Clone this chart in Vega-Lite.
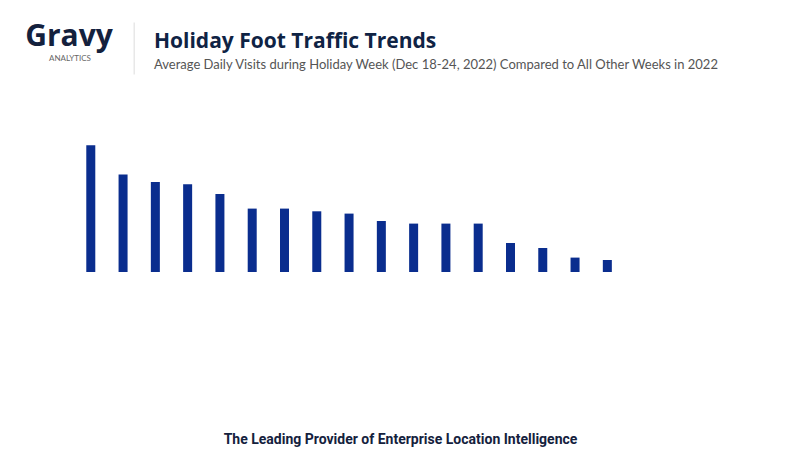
{
  "$schema": "https://vega.github.io/schema/vega-lite/v6.json",
  "width": 548.8,
  "height": 170,
  "autosize": {"type": "none"},
  "padding": {"left": 74.66, "right": 176.54, "top": 102, "bottom": 196},
  "background": "white",
  "config": {"view": {"stroke": null}},
  "title": {
    "text": "Holiday Foot Traffic Trends",
    "subtitle": "Average Daily Visits during Holiday Week (Dec 18-24, 2022) Compared to All Other Weeks in 2022",
    "anchor": "start",
    "frame": "group",
    "dx": 79.3,
    "offset": -51,
    "font": "Open Sans",
    "fontSize": 21,
    "fontWeight": "bold",
    "color": "#0f2344",
    "subtitleFont": "Lato",
    "subtitleFontSize": 13,
    "subtitleColor": "#555555",
    "subtitlePadding": 7
  },
  "data": {
    "values": [
      {"category": "Category 1", "visits": 126.7},
      {"category": "Category 2", "visits": 97.4},
      {"category": "Category 3", "visits": 90.0},
      {"category": "Category 4", "visits": 87.7},
      {"category": "Category 5", "visits": 78.0},
      {"category": "Category 6", "visits": 63.4},
      {"category": "Category 7", "visits": 63.4},
      {"category": "Category 8", "visits": 60.7},
      {"category": "Category 9", "visits": 58.4},
      {"category": "Category 10", "visits": 51.0},
      {"category": "Category 11", "visits": 48.4},
      {"category": "Category 12", "visits": 48.4},
      {"category": "Category 13", "visits": 48.4},
      {"category": "Category 14", "visits": 29.0},
      {"category": "Category 15", "visits": 24.0},
      {"category": "Category 16", "visits": 14.4},
      {"category": "Category 17", "visits": 12.0}
    ]
  },
  "mark": {"type": "bar", "color": "#0a2d8e"},
  "encoding": {
    "x": {
      "field": "category",
      "type": "nominal",
      "sort": null,
      "scale": {"paddingInner": 0.721, "paddingOuter": 0.36},
      "axis": {
        "orient": "top",
        "offset": 28,
        "domain": false,
        "grid": false,
        "values": ["Category 2"],
        "ticks": true,
        "tickSize": 52,
        "tickColor": "#dddddd",
        "tickWidth": 1,
        "tickOffset": 10.9,
        "labels": true,
        "labelAngle": 0,
        "labelExpr": "'ANALYTICS'",
        "labelOffset": -64.5,
        "labelPadding": -38,
        "labelFont": "Lato",
        "labelFontSize": 8,
        "labelColor": "#666666",
        "labelAlign": "center",
        "labelBaseline": "alphabetic",
        "title": "The Leading Provider of Enterprise Location Intelligence",
        "titleFont": "Roboto",
        "titleFontSize": 14,
        "titleFontWeight": "bold",
        "titleColor": "#14213d",
        "titleAnchor": "middle",
        "titleAlign": "center",
        "titleBaseline": "alphabetic",
        "titleX": 325.34,
        "titleY": 369
      }
    },
    "y": {
      "field": "visits",
      "type": "quantitative",
      "scale": {"domain": [0, 170], "nice": false},
      "axis": {
        "domain": false,
        "ticks": false,
        "labels": false,
        "grid": false,
        "title": "Gravy",
        "titleAngle": 0,
        "titleAlign": "left",
        "titleBaseline": "alphabetic",
        "titleX": -50,
        "titleY": -57,
        "titleFont": "Open Sans",
        "titleFontSize": 30,
        "titleFontWeight": "bold",
        "titleColor": "#14213d"
      }
    }
  }
}
